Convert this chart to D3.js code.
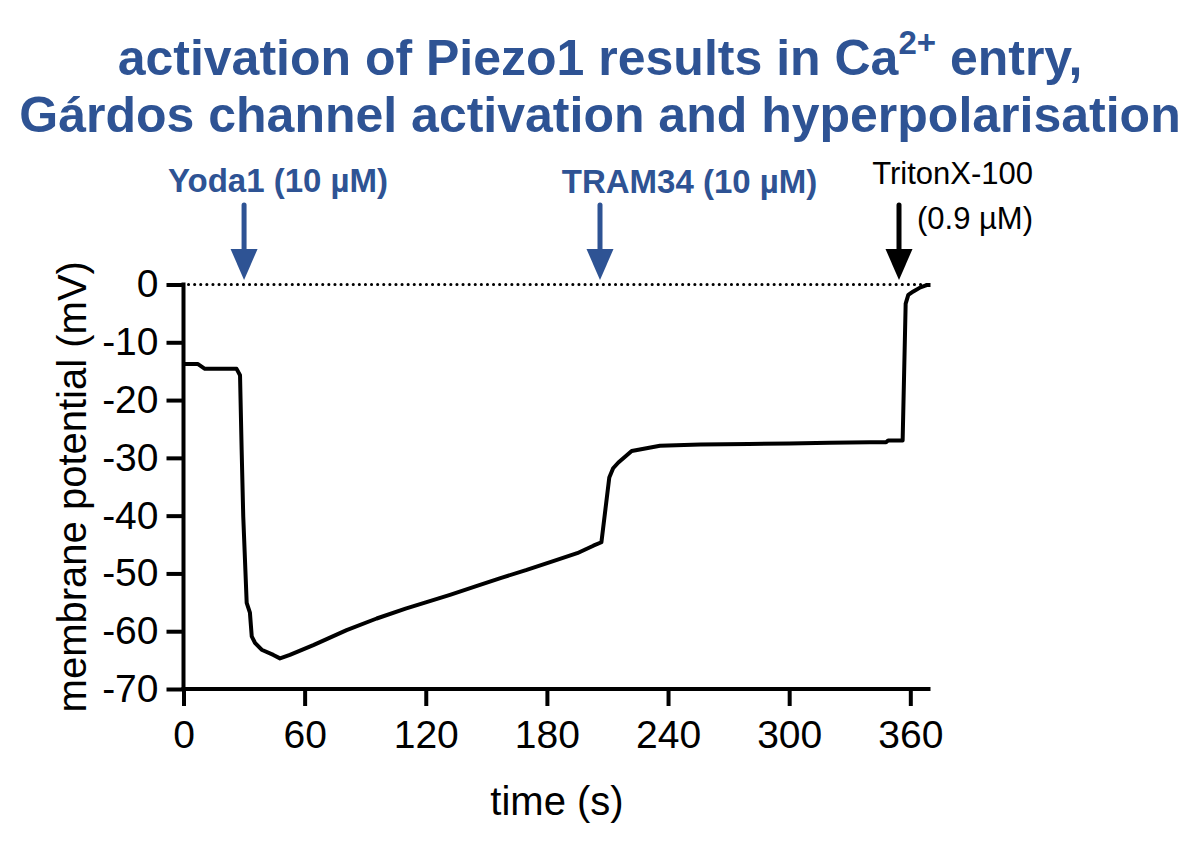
<!DOCTYPE html>
<html>
<head>
<meta charset="utf-8">
<script src="https://cdn.jsdelivr.net/npm/d3@7"></script>
<style>
  html, body { margin: 0; padding: 0; background: #fff; }
  text { font-family: "Liberation Sans", Arial, Helvetica, sans-serif; }
</style>
</head>
<body>
<svg id="chart" width="1200" height="847"></svg>
<script>
// ---- data ----
const timeS = [0, 7, 10.6, 18, 26.3, 28, 28.8, 29.6, 31.3, 32.9, 33.8, 35.4, 38.7, 44.5, 47.8, 52.7,
  64.3, 80.8, 95.7, 110, 120, 132, 145, 157, 170, 182, 195, 203, 207,
  210.9, 212.8, 215.4, 222, 236, 256, 280, 300, 320, 340, 348, 349, 356.2,
  357.7, 359, 361.5, 365, 368.1, 370];
const potentialMV = [-13.75, -13.75, -14.6, -14.6, -14.6, -15.7, -28.6, -40.2, -55.1, -56.8, -60.9, -62.0, -63.2, -64.1, -64.7, -64.1,
  -62.4, -59.8, -57.8, -56.1, -55.0, -53.7, -52.2, -50.8, -49.4, -48.0, -46.5, -45.2, -44.6,
  -33.4, -31.8, -30.8, -28.8, -27.9, -27.7, -27.6, -27.5, -27.4, -27.3, -27.3, -27.0, -27.0,
  -3.3, -1.8, -1.2, -0.5, -0.1, -0.1];
const xTickValues = [0, 60, 120, 180, 240, 300, 360];
const yTickValues = [0, -10, -20, -30, -40, -50, -60, -70];
const eventTimes = [30, 206.3, 354.4];
const eventLabels = ["Yoda1 (10 µM)", "TRAM34 (10 µM)", "TritonX-100"];
const eventSubLabels = ["", "", "(0.9 µM)"];
const titleLine1 = ["activation of Piezo1 results in Ca", "2+", " entry,"];
const titleLine2 = "Gárdos channel activation and hyperpolarisation";
const xAxisTitle = "time (s)";
const yAxisTitle = "membrane potential (mV)";

// ---- layout ----
const blue = "#2e5394";
const svg = d3.select("#chart");
svg.append("rect").attr("width", 1200).attr("height", 847).attr("fill", "#fff");

const x = d3.scaleLinear().domain([0, 370]).range([183.5, 930.5]);
const y = d3.scaleLinear().domain([-70, 0]).range([689, 284.5]);

// title
const t1 = svg.append("text").attr("x", 600).attr("y", 75).attr("text-anchor", "middle")
  .attr("font-size", 50).attr("font-weight", "bold").attr("fill", blue);
t1.append("tspan").text(titleLine1[0]);
t1.append("tspan").attr("font-size", 33).attr("dy", -21).text(titleLine1[1]);
t1.append("tspan").attr("dy", 21).text(titleLine1[2]);
svg.append("text").attr("x", 600).attr("y", 132).attr("text-anchor", "middle")
  .attr("font-size", 50).attr("font-weight", "bold").attr("fill", blue).text(titleLine2);

// zero dotted line
svg.append("line")
  .attr("x1", x(0) + 5).attr("x2", x(370)).attr("y1", y(0)).attr("y2", y(0))
  .attr("stroke", "#000").attr("stroke-width", 3)
  .attr("stroke-dasharray", "0.1 6").attr("stroke-linecap", "round");

// axes
const xAxis = d3.axisBottom(x).tickValues(xTickValues).tickSize(17).tickSizeOuter(0).tickPadding(14)
  .tickFormat(d => String(d));
const gx = svg.append("g").attr("transform", `translate(0,${y(-70)})`).call(xAxis);
const yAxis = d3.axisLeft(y).tickValues(yTickValues).tickSize(17).tickSizeOuter(0).tickPadding(8)
  .tickFormat(d => String(d));
const gy = svg.append("g").attr("transform", `translate(${x(0)},0)`).call(yAxis);
[gx, gy].forEach(g => {
  g.select(".domain").attr("stroke", "#000").attr("stroke-width", 4);
  g.selectAll(".tick line").attr("stroke", "#000").attr("stroke-width", 4);
  g.selectAll(".tick text").attr("fill", "#000").attr("font-size", 39)
    .attr("font-family", "'Liberation Sans', Arial, sans-serif");
});
gx.select(".domain").attr("d", `M${x(0) - 2},0H${x(370)}`);
gy.select(".domain").attr("d", `M0,${y(0) - 2}V${y(-70) + 2}`);

// axis titles
svg.append("text").attr("x", (x(0) + x(370)) / 2).attr("y", 815).attr("text-anchor", "middle")
  .attr("font-size", 40).attr("fill", "#000").text(xAxisTitle);
svg.append("text").attr("transform", `translate(86,${(y(0) + y(-70)) / 2}) rotate(-90)`)
  .attr("text-anchor", "middle").attr("font-size", 40).attr("fill", "#000").text(yAxisTitle);

// trace
const line = d3.line().x((d, i) => x(timeS[i])).y(d => y(d));
svg.append("path").attr("d", line(potentialMV)).attr("fill", "none")
  .attr("stroke", "#000").attr("stroke-width", 4).attr("stroke-linejoin", "round");

// event arrows
const arrowColors = [blue, blue, "#000"];
eventTimes.forEach((t, i) => {
  const ax = x(t);
  svg.append("line").attr("x1", ax).attr("x2", ax).attr("y1", 205).attr("y2", 252)
    .attr("stroke", arrowColors[i]).attr("stroke-width", 5).attr("stroke-linecap", "round");
  svg.append("path").attr("d", `M${ax - 13.5},249L${ax + 13.5},249L${ax},280Z`).attr("fill", arrowColors[i]);
});
// event labels
svg.append("text").attr("x", 278).attr("y", 192).attr("text-anchor", "middle")
  .attr("font-size", 33).attr("font-weight", "bold").attr("fill", blue).text(eventLabels[0]);
svg.append("text").attr("x", 689.5).attr("y", 193).attr("text-anchor", "middle")
  .attr("font-size", 33).attr("font-weight", "bold").attr("fill", blue).text(eventLabels[1]);
svg.append("text").attr("x", 1033).attr("y", 184).attr("text-anchor", "end")
  .attr("font-size", 31).attr("fill", "#000").text(eventLabels[2]);
svg.append("text").attr("x", 1033).attr("y", 229).attr("text-anchor", "end")
  .attr("font-size", 31).attr("fill", "#000").text(eventSubLabels[2]);
</script>
</body>
</html>
